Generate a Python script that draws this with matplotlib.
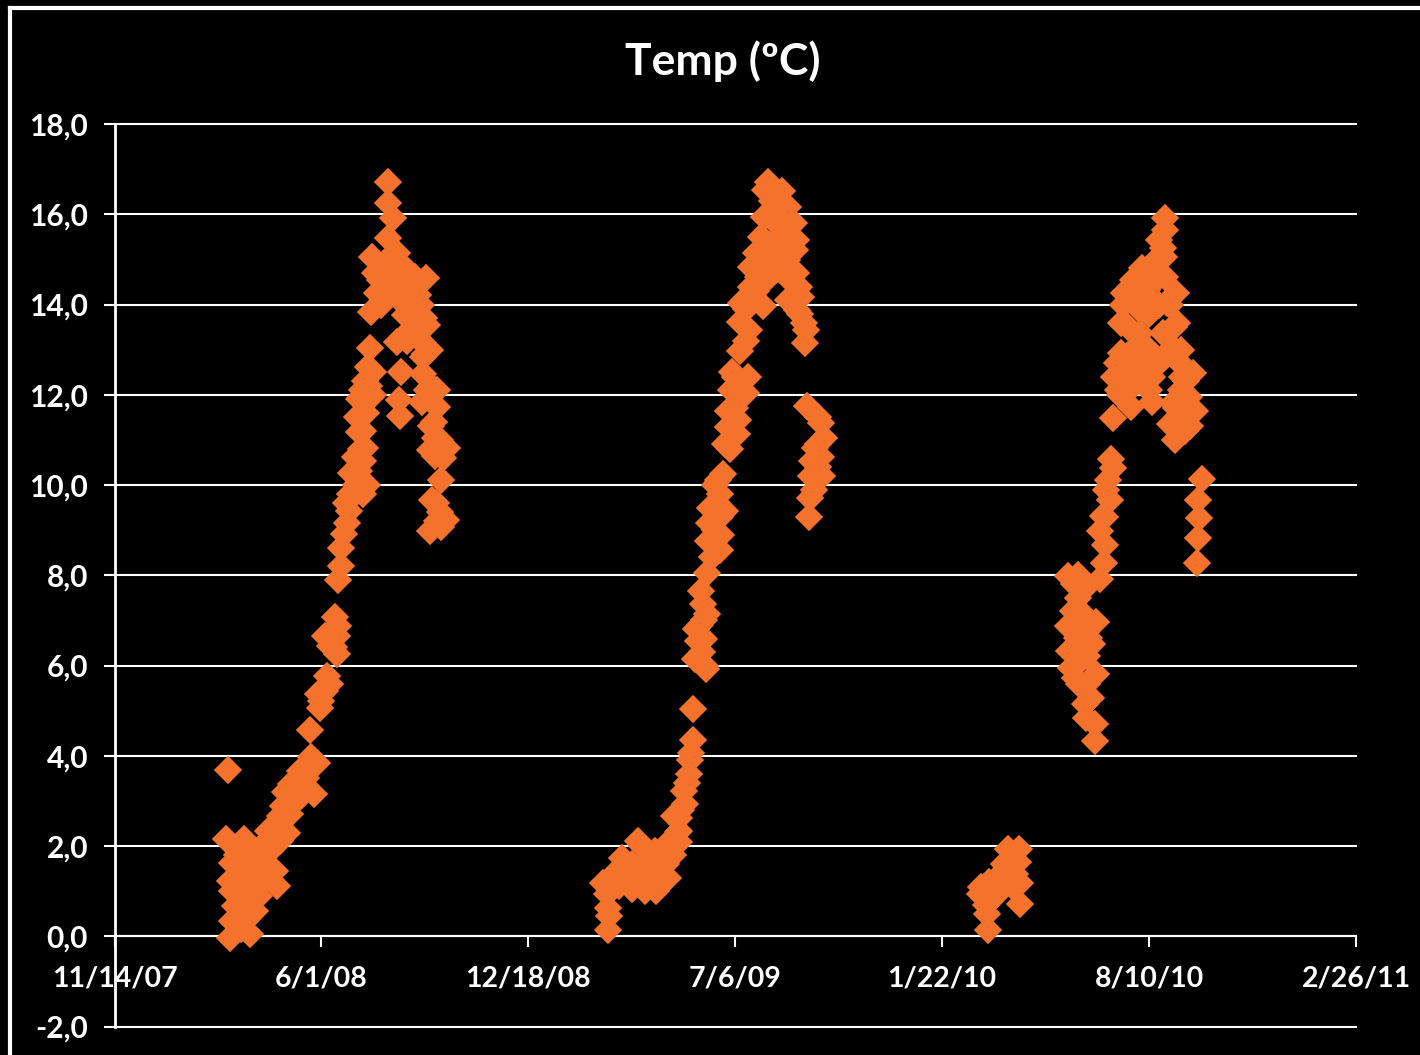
import matplotlib
matplotlib.use("Agg")
import matplotlib.pyplot as plt
from matplotlib.lines import Line2D

# x values are days since 11/14/07 (axis ticks every 200 days)
days_2008 = [110, 108, 125, 112, 131, 114, 126, 116, 114, 112, 131, 129, 121, 136, 145, 157, 155,
             167, 160, 190, 196, 193, 163, 171, 179, 184, 174, 156, 143, 131, 139, 126, 121, 114,
             150, 148, 136, 189, 205, 197, 199, 203, 200, 213, 203, 215, 215, 208, 216, 210, 216,
             219, 219, 222, 225, 227, 228, 240, 229, 240, 232, 242, 236, 234, 250, 239, 242, 245,
             247, 248, 254, 252, 249, 263, 264, 269, 264, 264, 301, 283, 276, 273, 286, 288, 302,
             273, 286, 295, 298, 277, 275, 276, 298, 302, 312, 297, 312, 309, 310, 321, 310, 305,
             316, 307, 320, 305, 316, 312, 266, 276, 281, 257,
             120, 122, 125, 135, 140, 150, 160, 170, 180, 185, 175, 188, 118, 128, 122, 120, 140,
             165, 208, 212, 224, 233, 236, 244, 238, 240, 243, 246, 236, 250, 258, 262, 270, 268,
             275, 280, 290, 293, 296, 299, 283, 305, 300, 306, 306, 315, 318, 311, 315]
temps_2008 = [3.68, 2.15, 2.15, -0.04, 0.04, 0.33, 0.33, 0.67, 1.0, 1.22, 0.44, 0.78, 1.44, 1.66,
              1.22, 1.11, 1.44, 2.29, 2.66, 3.97, 3.84, 3.15, 2.89, 3.37, 3.66, 3.22, 3.0, 2.44,
              2.0, 1.89, 1.33, 1.22, 1.89, 1.62, 1.89, 2.33, 0.55, 4.57, 5.77, 5.37, 5.06, 5.44,
              5.22, 7.08, 6.66, 6.66, 6.26, 6.44, 6.88, 6.77, 7.9, 8.21, 8.61, 8.92, 9.15, 9.43,
              9.81, 9.81, 10.26, 10.54, 10.61, 10.81, 11.17, 11.5, 11.99, 12.1, 12.3, 12.61, 13.03,
              13.83, 14.25, 14.69, 15.05, 14.98, 15.47, 15.92, 16.25, 16.71, 14.58, 14.76, 14.61,
              15.14, 14.25, 13.94, 13.54, 13.16, 13.43, 13.21, 12.83, 12.5, 11.88, 11.54, 12.47,
              12.1, 12.1, 11.83, 11.72, 11.39, 11.05, 10.83, 10.65, 10.77, 10.12, 9.66, 9.23, 8.99,
              9.06, 9.21, 14.32, 14.1, 13.76, 14.54,
              1.0, 0.6, 1.5, 1.0, 1.7, 1.5, 2.1, 2.7, 3.1, 3.5, 3.4, 3.7, 1.8, 2.0, 0.15, 0.4, 0.9,
              3.2, 5.6, 6.4, 9.6, 10.0, 10.3, 10.0, 10.8, 11.2, 11.6, 12.2, 11.9, 12.5, 14.0, 14.4,
              14.3, 14.9, 14.9, 14.3, 14.6, 14.2, 14.0, 13.7, 13.2, 13.0, 12.9, 12.2, 11.3, 11.0,
              10.6, 9.6, 9.4]

days_2009 = [477, 478, 477, 476, 472, 486, 491, 506, 500, 513, 523, 488, 529, 533, 546, 546, 546,
             551, 550, 555, 557, 559, 559, 527, 517, 537, 541, 522, 508, 572, 561, 564, 570, 562,
             573, 567, 573, 569, 585, 574, 575, 590, 576, 585, 583, 588, 590, 602, 593, 603, 593,
             610, 596, 597, 612, 605, 613, 605, 606, 627, 617, 615, 615, 620, 625, 628, 629, 632,
             645, 651, 657, 659, 658, 636, 643, 633, 650, 641, 659, 662, 664, 651, 660, 668, 667,
             669, 683, 686, 683, 674, 684, 673, 677, 672, 671,
             480, 495, 505, 515, 525, 500, 510, 520, 535, 540, 545, 548, 553, 556, 566, 568, 571,
             570, 578, 580, 582, 585, 586, 580, 595, 600, 605, 600, 610, 610, 620, 622, 628, 640,
             630, 650, 648, 640, 655, 657, 663, 666, 680, 680, 680, 676, 636, 640]
temps_2009 = [0.13, 0.44, 0.62, 0.93, 1.18, 1.44, 1.73, 2.11, 1.04, 1.0, 1.0, 1.11, 1.29, 1.6, 2.09,
              2.33, 2.62, 2.93, 3.22, 3.6, 4.06, 4.35, 5.04, 1.66, 1.44, 2.1, 2.66, 1.89, 1.44,
              5.93, 6.15, 6.55, 6.59, 6.81, 7.15, 7.66, 8.06, 7.37, 8.55, 8.77, 9.15, 9.43, 9.5,
              9.81, 10.1, 10.25, 10.9, 11.14, 11.28, 11.43, 11.65, 12.03, 12.1, 12.5, 12.39, 12.96,
              13.43, 13.61, 14.03, 13.96, 14.25, 14.38, 14.83, 15.14, 15.49, 15.94, 16.54, 16.71,
              16.51, 16.16, 15.8, 15.43, 15.2, 15.36, 15.72, 14.98, 14.98, 14.78, 14.69, 14.38,
              14.16, 14.1, 13.87, 13.43, 13.14, 11.74, 11.37, 11.05, 10.61, 10.54, 10.21, 10.21,
              10.83, 9.72, 9.28,
              1.2, 1.2, 1.3, 1.7, 1.3, 1.6, 2.0, 1.4, 1.3, 1.8, 2.3, 2.8, 3.4, 3.9, 6.9, 6.3, 6.0,
              7.0, 8.4, 9.0, 9.6, 9.3, 8.9, 10.0, 10.8, 11.7, 12.1, 12.4, 13.2, 13.9, 14.3, 14.6,
              14.5, 15.2, 15.2, 15.6, 15.2, 14.9, 14.5, 14.1, 13.8, 13.6, 11.5, 10.9, 10.4, 9.9,
              16.3, 16.0]

days_2010 = [844, 843, 837, 838, 846, 860, 855, 864, 874, 873, 875, 875, 870, 853,
             948, 948, 939, 938, 944, 928, 949, 925, 923, 945, 922, 949, 931, 942, 935, 938, 922,
             937, 931, 953, 956, 957, 953, 955, 962, 960, 965, 963, 1046, 1047, 1048, 1047, 1051,
             965, 983, 1003, 1020, 1030, 1044, 1039, 1042, 1030, 1031, 1027, 1026, 1017, 966, 970,
             969, 973, 984, 973, 976, 993, 984, 1014, 1010, 1015, 1015, 1013, 1007, 998, 991, 991,
             1007, 1013, 994, 994, 1003, 1000, 981, 984, 1031, 1031, 1023,
             845, 850, 858, 865, 870, 868, 842, 930, 935, 932, 940, 938, 928, 940, 926, 927, 931,
             958, 957, 975, 985, 995, 1005, 1015, 1020, 1000, 980, 985, 975, 972, 978, 990, 1000,
             1003, 1010, 1020, 1025, 1036, 1034, 1025, 1032, 1024, 1010, 1003, 990, 1035, 1040,
             1026]
temps_2010 = [0.13, 0.49, 0.93, 1.09, 0.78, 1.6, 1.29, 1.93, 1.93, 1.64, 1.18, 0.71, 1.38, 0.93,
              4.33, 4.71, 4.84, 5.15, 5.28, 5.73, 5.82, 5.95, 6.33, 6.48, 6.88, 6.97, 7.21, 6.61,
              6.17, 6.84, 7.99, 7.7, 7.5, 7.92, 8.28, 8.66, 8.99, 9.32, 9.66, 10.1, 10.37, 10.57,
              8.28, 8.83, 9.26, 9.66, 10.14, 11.48, 11.72, 11.85, 11.36, 11.12, 11.65, 11.94,
              12.48, 12.7, 12.99, 13.58, 14.25, 14.03, 12.39, 12.1, 12.7, 12.92, 12.99, 13.58,
              14.25, 14.81, 14.54, 15.05, 15.43, 15.65, 15.92, 15.25, 14.69, 14.32, 13.94, 13.36,
              13.94, 13.36, 12.99, 12.39, 12.39, 12.1, 12.1, 12.39, 12.1, 11.72, 11.81,
              1.2, 1.2, 1.4, 1.5, 1.7, 1.1, 0.7, 6.6, 6.5, 5.6, 5.6, 7.1, 6.0, 6.2, 7.2, 7.8, 8.0,
              9.9, 9.3, 14.0, 14.2, 14.3, 14.5, 14.6, 14.0, 13.8, 13.5, 13.0, 12.4, 12.0, 12.6,
              12.7, 13.0, 12.7, 12.7, 13.0, 13.0, 12.3, 11.5, 11.0, 12.4, 13.5, 14.0, 14.9, 13.9,
              11.2, 11.3, 11.7]

x_ticks = [0, 200, 400, 600, 800, 1000, 1200]
x_labels = ["11/14/07", "6/1/08", "12/18/08", "7/6/09", "1/22/10", "8/10/10", "2/26/11"]
y_ticks = [-2, 0, 2, 4, 6, 8, 10, 12, 14, 16, 18]
y_labels = ["-2,0", "0,0", "2,0", "4,0", "6,0", "8,0", "10,0", "12,0", "14,0", "16,0", "18,0"]

W, H = 1420, 1055
ORANGE = "#F4722C"

plt.rcParams["font.family"] = ["Lato", "DejaVu Sans"]
plt.rcParams["font.weight"] = "bold"

fig = plt.figure(figsize=(W / 100, H / 100), dpi=100, facecolor="black")
ax = fig.add_axes([114.5 / W, 1 - 1026.5 / H, (1356 - 114.5) / W, (1026.5 - 124) / H],
                  facecolor="black")

for d, t in ((days_2008, temps_2008), (days_2009, temps_2009), (days_2010, temps_2010)):
    ax.plot(d, t, ls="none", marker="D", ms=13.2, mfc=ORANGE, mec=ORANGE, mew=1.2, zorder=3,
            clip_on=False)

ax.set_xlim(0, 1200)
ax.set_ylim(-2, 18)
ax.set_xticks(x_ticks, x_labels)
ax.set_yticks(y_ticks, y_labels)
ax.grid(axis="y", color="white", lw=1.5, zorder=1)
for gl in ax.get_ygridlines():
    gl.set_clip_on(False)
ax.set_axisbelow(True)

for side in ("top", "right"):
    ax.spines[side].set_visible(False)
ax.spines["bottom"].set_position(("data", 0))
ax.spines["bottom"].set_color("white")
ax.spines["bottom"].set_linewidth(1.5)
ax.spines["left"].set_color("white")
ax.spines["left"].set_linewidth(2)

ax.tick_params(axis="x", colors="white", length=8, width=1.5, pad=13, labelsize=20.5)
ax.tick_params(axis="y", colors="white", length=8, width=1.5, pad=11, labelsize=21.5)

fig.text(723 / W, 1 - 61 / H, "Temp (ºC)", color="white", fontsize=32, fontweight="bold",
         ha="center", va="center")

# outer chart frame
fig.add_artist(Line2D([10 / W, 10 / W], [0, 1 - 8 / H], color="white", lw=3))
fig.add_artist(Line2D([10 / W, 1], [1 - 8 / H, 1 - 8 / H], color="white", lw=3))

fig.savefig("out.png", dpi=100, facecolor="black")
